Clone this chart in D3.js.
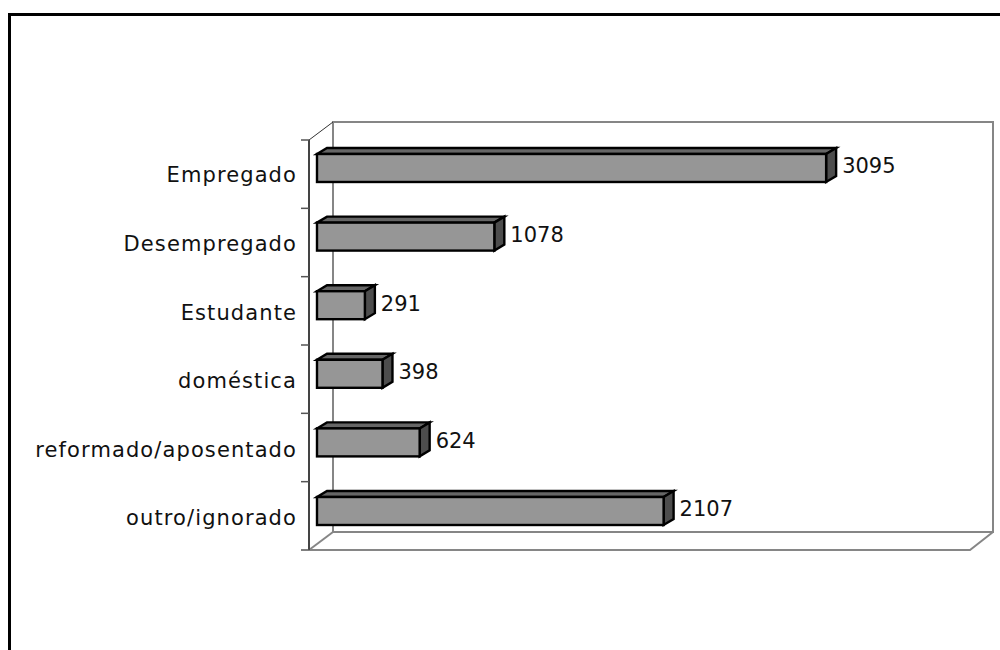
<!DOCTYPE html>
<html><head><meta charset="utf-8">
<script src="https://cdn.jsdelivr.net/npm/d3@7"></script>
<style>html,body{margin:0;padding:0;background:#fff}svg{display:block}</style>
</head><body><svg id="c" width="1000" height="650"></svg>
<script>
const categories = ["Empregado","Desempregado","Estudante","doméstica","reformado/aposentado","outro/ignorado"];
const values = [3095,1078,291,398,624,2107];
const axisMax = 4000;

const svg = d3.select("#c");
const plot = {left:309, right:970, top:140, bottom:550};
const depth = {dx:24, dy:18};
const barDepth = {dx:10, dy:6};
const barGap = 8;
const font = "'DejaVu Sans',sans-serif";

const x = d3.scaleLinear().domain([0,axisMax]).range([plot.left,plot.left+658]);
const yAxis = d3.scaleBand().domain(categories).range([plot.top,plot.bottom]);
const y = d3.scaleBand().domain(categories).range([154,525]).paddingInner(0.592);

// frame
svg.append("path").attr("d","M9.5,650V14.5H1000").attr("fill","none").attr("stroke","#000").attr("stroke-width",3);

// walls
const wall = "#868686";
svg.append("path").attr("fill","none").attr("stroke",wall).attr("stroke-width",2)
  .attr("d",`M${plot.left+depth.dx},${plot.bottom-depth.dy}V${plot.top-depth.dy}H${plot.right+depth.dx-1}V${plot.bottom-depth.dy}H${plot.left+depth.dx}`);
svg.append("path").attr("fill","none").attr("stroke",wall).attr("stroke-width",2)
  .attr("d",`M${plot.left},${plot.bottom}H${plot.right}L${plot.right+depth.dx-1},${plot.bottom-depth.dy}`);
svg.append("path").attr("fill","none").attr("stroke",wall).attr("stroke-width",2)
  .attr("d",`M${plot.left},${plot.bottom}L${plot.left+depth.dx},${plot.bottom-depth.dy}`);
svg.append("path").attr("fill","none").attr("stroke","#333").attr("stroke-width",1)
  .attr("d",`M${plot.left},${plot.top}L${plot.left+depth.dx},${plot.top-depth.dy}`);

// category axis
const tickY = categories.map(c=>yAxis(c)).concat(plot.bottom);
svg.append("line").attr("x1",plot.left).attr("x2",plot.left).attr("y1",plot.top).attr("y2",plot.bottom).attr("stroke","#444").attr("stroke-width",2);
svg.selectAll("line.tick").data(tickY).join("line").attr("class","tick")
  .attr("x1",plot.left-8).attr("x2",plot.left).attr("y1",d=>d).attr("y2",d=>d).attr("stroke","#555").attr("stroke-width",1.5);
svg.selectAll("text.cat").data(categories).join("text").attr("class","cat")
  .attr("x",297).attr("y",d=>y(d)+y.bandwidth()/2+7).attr("dy","0.35em")
  .attr("text-anchor","end").attr("font-family",font).attr("font-size",21).attr("letter-spacing",1.1).attr("fill","#111").text(d=>d);

// bars
const g = svg.selectAll("g.bar").data(values).join("g").attr("class","bar");
const X0 = x(0)+barGap;
const barTop = (d,i)=>y(categories[i]);
const bh = y.bandwidth();
const st = s=>s.attr("stroke","#000").attr("stroke-width",2.4).attr("stroke-linejoin","miter");
st(g.append("path").attr("fill","#666666").attr("d",(d,i)=>{const X=x(d)+barGap,T=barTop(d,i);
  return `M${X0},${T}l${barDepth.dx},${-barDepth.dy}H${X+barDepth.dx}l${-barDepth.dx},${barDepth.dy}Z`;}));
st(g.append("path").attr("fill","#4d4d4d").attr("d",(d,i)=>{const X=x(d)+barGap,T=barTop(d,i);
  return `M${X},${T}l${barDepth.dx},${-barDepth.dy}v${bh}l${-barDepth.dx},${barDepth.dy}Z`;}));
st(g.append("rect").attr("fill","#969696").attr("x",X0).attr("y",(d,i)=>barTop(d,i)).attr("width",d=>x(d)-x(0)).attr("height",bh));
g.append("text").attr("x",d=>x(d)+barGap+16).attr("y",(d,i)=>barTop(d,i)+bh/2-2).attr("dy","0.35em")
  .attr("font-family",font).attr("font-size",21).attr("fill","#111").text(d=>d);
</script></body></html>
